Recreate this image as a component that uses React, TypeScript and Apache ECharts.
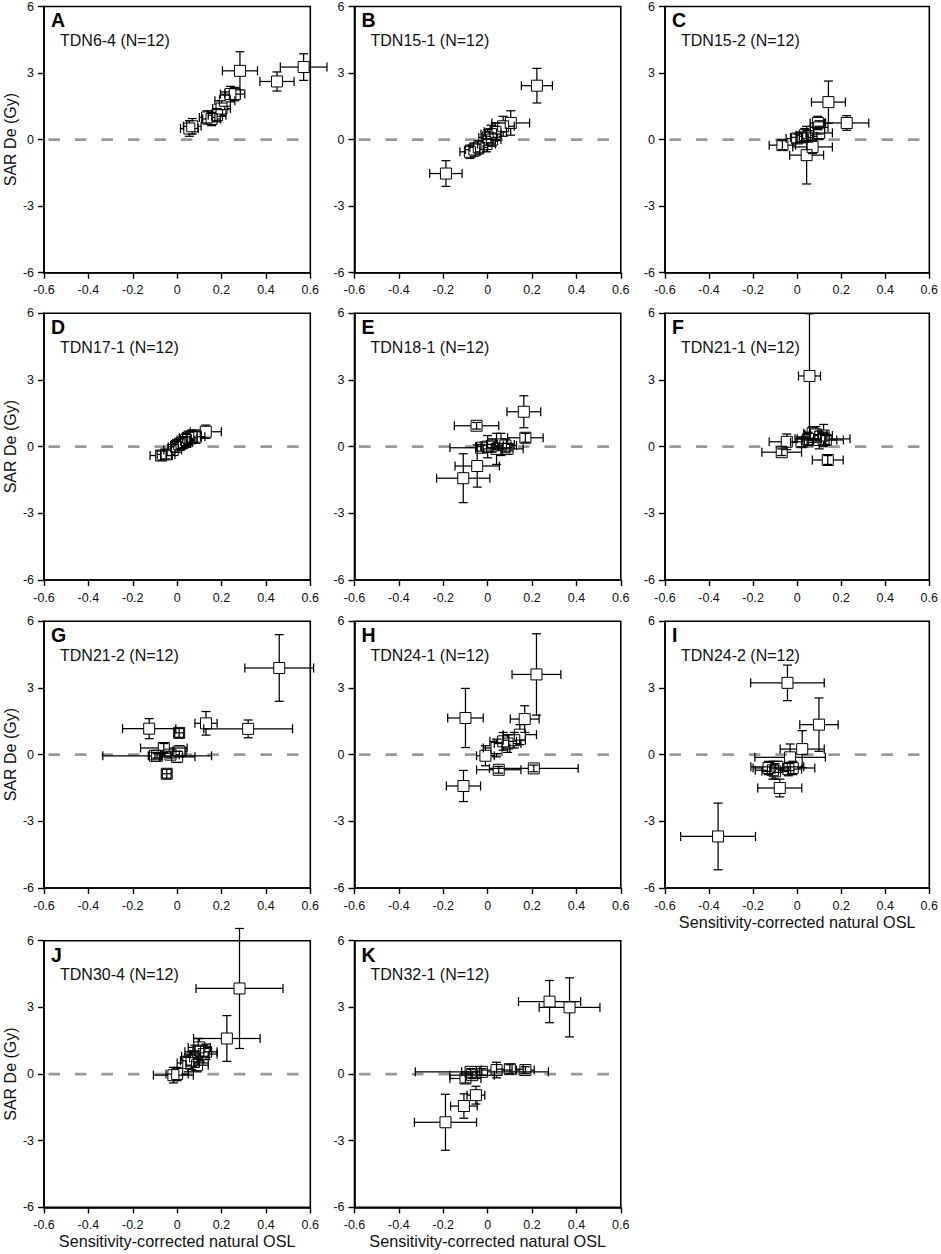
import React, { useEffect, useRef } from 'react';
import * as echarts from 'echarts';

// Each point: [natural OSL, SAR De (Gy), OSL error, De error]
const panelA = [
  [0.055, 0.5, 0.04, 0.35],
  [0.068, 0.6, 0.04, 0.35],
  [0.135, 1.0, 0.035, 0.3],
  [0.155, 0.93, 0.04, 0.3],
  [0.18, 1.1, 0.04, 0.3],
  [0.2, 1.4, 0.04, 0.35],
  [0.215, 1.75, 0.045, 0.4],
  [0.24, 2.05, 0.045, 0.35],
  [0.26, 2.05, 0.045, 0.3],
  [0.283, 3.1, 0.079, 0.86],
  [0.45, 2.62, 0.077, 0.43],
  [0.57, 3.27, 0.105, 0.6],
];
const panelB = [
  [0.222, 2.43, 0.07, 0.78],
  [-0.188, -1.53, 0.073, 0.58],
  [0.104, 0.75, 0.085, 0.55],
  [0.07, 0.6, 0.05, 0.45],
  [0.035, 0.35, 0.05, 0.4],
  [0.015, 0.25, 0.045, 0.4],
  [0.0, 0.1, 0.04, 0.35],
  [0.02, 0.0, 0.04, 0.3],
  [-0.005, -0.2, 0.04, 0.35],
  [-0.04, -0.35, 0.04, 0.3],
  [-0.06, -0.45, 0.04, 0.3],
  [-0.08, -0.55, 0.045, 0.3],
];
const panelC = [
  [0.142, 1.69, 0.077, 0.95],
  [0.225, 0.75, 0.1, 0.33],
  [0.094, 0.75, 0.035, 0.3],
  [0.1, 0.55, 0.04, 0.3],
  [0.1, 0.3, 0.06, 0.3],
  [0.043, -0.7, 0.077, 1.3],
  [-0.067, -0.25, 0.06, 0.2],
  [0.07, -0.33, 0.09, 0.3],
  [0.02, 0.1, 0.05, 0.2],
  [0.035, 0.2, 0.04, 0.3],
  [0.05, 0.15, 0.04, 0.25],
  [0.0, 0.05, 0.05, 0.2],
];
const panelD = [
  [-0.072, -0.4, 0.05, 0.2],
  [-0.05, -0.35, 0.04, 0.2],
  [-0.02, -0.15, 0.04, 0.25],
  [-0.005, 0.0, 0.035, 0.25],
  [0.01, 0.1, 0.035, 0.25],
  [0.02, 0.15, 0.04, 0.25],
  [0.03, 0.2, 0.04, 0.25],
  [0.04, 0.3, 0.04, 0.3],
  [0.05, 0.4, 0.04, 0.3],
  [0.065, 0.45, 0.04, 0.3],
  [0.085, 0.45, 0.04, 0.3],
  [0.129, 0.67, 0.07, 0.3],
];
const panelE = [
  [0.163, 1.57, 0.076, 0.72],
  [-0.05, 0.94, 0.1, 0.15],
  [0.17, 0.4, 0.08, 0.2],
  [-0.11, -1.42, 0.12, 1.1],
  [-0.047, -0.87, 0.1, 0.95],
  [0.04, -0.1, 0.06, 0.7],
  [-0.03, -0.05, 0.14, 0.15],
  [0.0, 0.0, 0.05, 0.5],
  [0.02, 0.05, 0.05, 0.3],
  [0.06, 0.1, 0.06, 0.5],
  [0.08, 0.05, 0.05, 0.3],
  [0.09, -0.1, 0.07, 0.25],
];
const panelF = [
  [0.056, 3.18, 0.05, 2.8],
  [0.139, -0.6, 0.07, 0.2],
  [-0.07, -0.25, 0.09, 0.15],
  [-0.047, 0.22, 0.08, 0.35],
  [0.02, 0.2, 0.05, 0.2],
  [0.05, 0.35, 0.06, 0.3],
  [0.07, 0.6, 0.04, 0.3],
  [0.085, 0.55, 0.05, 0.35],
  [0.1, 0.3, 0.08, 0.4],
  [0.12, 0.5, 0.04, 0.5],
  [0.13, 0.3, 0.08, 0.2],
  [0.12, 0.35, 0.12, 0.3],
];
const panelG = [
  [0.46, 3.9, 0.155, 1.5],
  [0.32, 1.16, 0.2, 0.4],
  [0.13, 1.41, 0.05, 0.53],
  [-0.126, 1.17, 0.12, 0.45],
  [0.009, 0.98, 0.02, 0.2],
  [-0.047, -0.86, 0.02, 0.2],
  [-0.06, 0.3, 0.105, 0.2],
  [-0.09, -0.05, 0.245, 0.1],
  [-0.1, -0.05, 0.03, 0.15],
  [-0.03, 0.0, 0.04, 0.15],
  [0.0, -0.1, 0.08, 0.25],
  [0.01, 0.15, 0.03, 0.25],
];
const panelH = [
  [0.22, 3.61, 0.11, 1.83],
  [-0.1, 1.65, 0.08, 1.33],
  [0.167, 1.6, 0.065, 0.6],
  [0.145, 0.9, 0.075, 0.45],
  [-0.109, -1.41, 0.077, 0.7],
  [0.05, -0.68, 0.1, 0.15],
  [0.208, -0.62, 0.2, 0.15],
  [0.12, 0.65, 0.05, 0.35],
  [0.09, 0.5, 0.06, 0.4],
  [0.07, 0.6, 0.06, 0.4],
  [0.04, 0.3, 0.06, 0.4],
  [-0.01, -0.05, 0.04, 0.45],
];
const panelI = [
  [-0.359, -3.68, 0.17, 1.5],
  [-0.044, 3.23, 0.167, 0.8],
  [0.099, 1.35, 0.087, 1.2],
  [0.023, 0.25, 0.1, 0.83],
  [-0.079, -1.5, 0.1, 0.4],
  [-0.032, -0.12, 0.16, 0.6],
  [-0.13, -0.6, 0.07, 0.3],
  [-0.11, -0.7, 0.08, 0.4],
  [-0.1, -0.75, 0.06, 0.35],
  [-0.04, -0.65, 0.06, 0.3],
  [-0.02, -0.6, 0.1, 0.3],
  [-0.09, -0.55, 0.12, 0.25],
];
const panelJ = [
  [0.281, 3.85, 0.196, 2.7],
  [0.224, 1.6, 0.15, 1.03],
  [-0.017, -0.05, 0.09, 0.35],
  [0.0, 0.0, 0.05, 0.3],
  [0.05, 0.5, 0.05, 0.4],
  [0.065, 0.6, 0.05, 0.4],
  [0.08, 0.8, 0.06, 0.5],
  [0.095, 1.0, 0.06, 0.6],
  [0.1, 1.2, 0.05, 0.4],
  [0.12, 0.9, 0.06, 0.4],
  [0.13, 1.0, 0.05, 0.35],
  [0.09, 0.4, 0.05, 0.3],
];
const panelK = [
  [0.279, 3.26, 0.14, 0.95],
  [0.369, 3.0, 0.137, 1.33],
  [-0.19, -2.17, 0.14, 1.26],
  [-0.107, -1.44, 0.06, 0.55],
  [-0.053, -0.95, 0.04, 0.4],
  [-0.026, 0.1, 0.3, 0.15],
  [-0.1, -0.2, 0.07, 0.2],
  [0.04, 0.18, 0.07, 0.35],
  [0.1, 0.22, 0.06, 0.2],
  [0.17, 0.18, 0.04, 0.15],
  [-0.077, 0.1, 0.04, 0.15],
  [-0.07, -0.05, 0.1, 0.15],
];

const panelLetters = ['A', 'B', 'C', 'D', 'E', 'F', 'G', 'H', 'I', 'J', 'K'];
const sampleNames = [
  'TDN6-4 (N=12)', 'TDN15-1 (N=12)', 'TDN15-2 (N=12)', 'TDN17-1 (N=12)',
  'TDN18-1 (N=12)', 'TDN21-1 (N=12)', 'TDN21-2 (N=12)', 'TDN24-1 (N=12)',
  'TDN24-2 (N=12)', 'TDN30-4 (N=12)', 'TDN32-1 (N=12)',
];
const panelData = [panelA, panelB, panelC, panelD, panelE, panelF, panelG, panelH, panelI, panelJ, panelK];
const zeroLineX = [-0.58, 0.56];
const zeroLineY = 0;
const xTicks = { min: -0.6, max: 0.6, interval: 0.2 };
const yTicks = { min: -6, max: 6, interval: 3 };
const xAxisTitle = 'Sensitivity-corrected natural OSL';
const yAxisTitle = 'SAR De (Gy)';

const FONT = '"Liberation Sans", Arial, Helvetica, sans-serif';
const COL_LEFT = [44, 354.5, 665];
const ROW_TOP = [6, 313.3, 621.3, 940.7];
const GW = 266.3;
const GH = 266.7;

function renderItem(params: any, api: any) {
  const x = api.value(0);
  const y = api.value(1);
  const xe = api.value(2);
  const ye = api.value(3);
  const c = api.coord([x, y]);
  const l = api.coord([x - xe, y]);
  const r = api.coord([x + xe, y]);
  const t = api.coord([x, y + ye]);
  const b = api.coord([x, y - ye]);
  const cap = 4.5;
  const half = 5.5;
  const ls = { stroke: '#000', lineWidth: 1.25 };
  // bars start at the marker edge when they reach beyond it
  const lx = c[0] - l[0] > half ? c[0] - half : c[0];
  const rx = r[0] - c[0] > half ? c[0] + half : c[0];
  const ty = c[1] - t[1] > half ? c[1] - half : c[1];
  const by = b[1] - c[1] > half ? c[1] + half : c[1];
  return {
    type: 'group',
    children: [
      { type: 'line', shape: { x1: l[0], y1: c[1], x2: lx, y2: c[1] }, style: ls },
      { type: 'line', shape: { x1: rx, y1: c[1], x2: r[0], y2: c[1] }, style: ls },
      { type: 'line', shape: { x1: l[0], y1: c[1] - cap, x2: l[0], y2: c[1] + cap }, style: ls },
      { type: 'line', shape: { x1: r[0], y1: c[1] - cap, x2: r[0], y2: c[1] + cap }, style: ls },
      { type: 'line', shape: { x1: c[0], y1: t[1], x2: c[0], y2: ty }, style: ls },
      { type: 'line', shape: { x1: c[0], y1: by, x2: c[0], y2: b[1] }, style: ls },
      { type: 'line', shape: { x1: c[0] - cap, y1: t[1], x2: c[0] + cap, y2: t[1] }, style: ls },
      { type: 'line', shape: { x1: c[0] - cap, y1: b[1], x2: c[0] + cap, y2: b[1] }, style: ls },
      {
        type: 'rect',
        shape: { x: c[0] - half, y: c[1] - half, width: half * 2, height: half * 2 },
        style: { fill: 'none', stroke: '#000', lineWidth: 1.0 },
      },
    ],
  };
}

export default function App() {
  const ref = useRef<HTMLDivElement>(null);
  useEffect(() => {
    document.body.style.margin = '0';
    if (!ref.current) return;
    const chart = echarts.init(ref.current, undefined, { renderer: 'svg' });
    const grid: any[] = [];
    const xAxis: any[] = [];
    const yAxis: any[] = [];
    const series: any[] = [];
    const title: any[] = [];
    panelData.forEach((data, i) => {
      const row = Math.floor(i / 3);
      const col = i % 3;
      const left = COL_LEFT[col];
      const top = ROW_TOP[row];
      grid.push({ left, top, width: GW, height: GH, show: true, borderColor: '#000', borderWidth: 1.6, backgroundColor: 'transparent' });
      const showXName = i >= 8;
      const showYName = col === 0;
      xAxis.push({
        gridIndex: i, type: 'value', min: xTicks.min, max: xTicks.max, interval: xTicks.interval,
        position: 'bottom',
        axisLine: { onZero: false, lineStyle: { color: '#000', width: 1.6 } },
        axisTick: { show: true, inside: false, length: 6, lineStyle: { color: '#000', width: 1.4 } },
        axisLabel: { color: '#111', fontSize: 12.5, fontFamily: FONT, margin: 11,
          formatter: (v: number) => String(Math.round(v * 10) / 10) },
        splitLine: { show: false },
        name: showXName ? xAxisTitle : '',
        nameLocation: 'middle', nameGap: 26,
        nameTextStyle: { color: '#111', fontSize: 16.2, fontFamily: FONT },
      });
      yAxis.push({
        gridIndex: i, type: 'value', min: yTicks.min, max: yTicks.max, interval: yTicks.interval,
        position: 'left',
        axisLine: { onZero: false, lineStyle: { color: '#000', width: 1.6 } },
        axisTick: { show: true, inside: false, length: 6, lineStyle: { color: '#000', width: 1.4 } },
        axisLabel: { color: '#111', fontSize: 12.5, fontFamily: FONT, margin: 10 },
        splitLine: { show: false },
        name: showYName ? yAxisTitle : '',
        nameLocation: 'middle', nameGap: 25,
        nameTextStyle: { color: '#111', fontSize: 16, fontFamily: FONT },
      });
      series.push({
        type: 'line', xAxisIndex: i, yAxisIndex: i, symbol: 'none', silent: true, z: 1,
        data: zeroLineX.map((x) => [x, zeroLineY]),
        lineStyle: { color: '#999', width: 2.8, type: [11.5, 15] },
      });
      series.push({
        type: 'custom', xAxisIndex: i, yAxisIndex: i, renderItem, z: 2,
        encode: { x: 0, y: 1 },
        data,
      });
      title.push({
        text: panelLetters[i], left: left + 7, top: top + 4,
        textStyle: { fontSize: 19.5, fontWeight: 'bold', color: '#000', fontFamily: FONT },
        padding: 0,
      });
      title.push({
        text: sampleNames[i], left: left + 16, top: top + 26,
        textStyle: { fontSize: 16, fontWeight: 'normal', color: '#111', fontFamily: FONT },
        padding: 0,
      });
    });
    chart.setOption({
      animation: false,
      backgroundColor: '#fff',
      textStyle: { fontFamily: FONT },
      title, grid, xAxis, yAxis, series,
    });
    return () => chart.dispose();
  }, []);
  return <div ref={ref} style={{ width: 941, height: 1254 }} />;
}
